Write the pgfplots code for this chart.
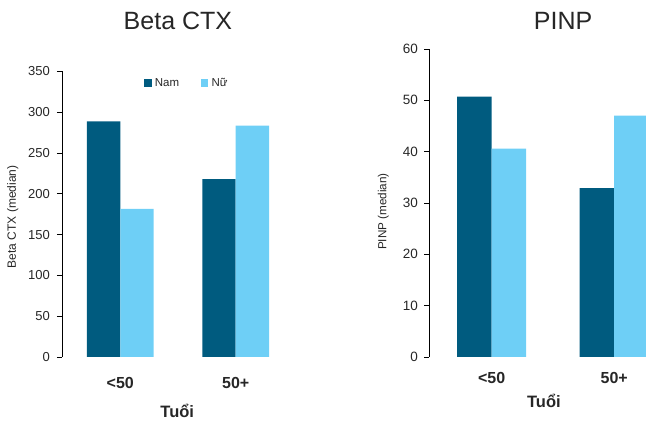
\documentclass[border=0pt]{standalone}
\usepackage{fontspec}
\setmainfont{Liberation Sans}
\usepackage{pgfplots}
\pgfplotsset{compat=1.18}
\definecolor{nam}{HTML}{005B7F}
\definecolor{nu}{HTML}{6ECFF6}
\definecolor{txt}{HTML}{262626}
\pgfplotsset{
  sqleg/.style={legend image code/.code={\fill[##1,draw=none] (0pt,-0.6ex) rectangle (7.5pt,7.5pt-0.6ex);}},
  common/.style={
    scale only axis, anchor=south west,
    axis lines*=left,
    x axis line style={draw=none},
    y axis line style={line width=0.8pt, black},
    xtick style={draw=none},
    ytick style={line width=0.8pt, black},
    tick align=outside, major tick length=5pt,
    ymin=0,
    xtick={0,1}, xticklabels={\textless50,50+},
    /pgf/number format/assume math mode=true,
    ybar, 
    title style={anchor=base, font=\fontsize{25}{25}\selectfont, text=txt},
    xticklabel style={anchor=base, font=\bfseries\fontsize{16}{16}\selectfont, text=txt},
    xlabel style={anchor=base, font=\bfseries\fontsize{16.5}{16.5}\selectfont, text=txt},
  }
}
\begin{document}
\begin{tikzpicture}
\path[use as bounding box, clip] (0,0) rectangle (646pt,423pt);
\begin{axis}[common,
  at={(62pt,66pt)}, width=231.4pt, height=285.5pt,
  xmin=-0.505, xmax=1.5, ymax=350,
  ytick={0,50,...,350},
  yticklabel style={anchor=east, inner sep=0pt, xshift=-7pt, font=\fontsize{13}{13}\selectfont, text=txt},
  bar width=0.2886,
  title={Beta CTX}, title style={at={(axis description cs:0.501,1)}, yshift=35.8pt},
  xticklabel style={yshift=-26.7pt},
  xlabel={Tuổi}, xlabel style={at={(axis description cs:0.498,0)}, yshift=-60.3pt},
  ylabel={Beta CTX (median)},
  every axis y label/.style={at={(axis description cs:-0.213,0.491)}, rotate=90, anchor=center, font=\fontsize{12}{12}\selectfont, text=txt},
  legend columns=2,
  legend style={at={(axis description cs:0.3544,0.958)}, anchor=west, draw=none, fill=none, inner sep=0pt, outer sep=0pt,
    font=\fontsize{11.5}{11.5}\selectfont, text=txt,
    nodes={inner sep=0pt},
    /tikz/every odd column/.style={column sep=3.3pt},
    /tikz/every even column/.style={column sep=21.7pt}},
]
\addplot[sqleg, fill=nam, draw=none, bar shift=-0.1443] coordinates {(0,289) (1,218)};
\addlegendentry{Nam}
\addplot[sqleg, fill=nu, draw=none, bar shift=0.1443] coordinates {(0,181.5) (1,283.5)};
\addlegendentry{Nữ}
\end{axis}
\begin{axis}[common,
  at={(429pt,66pt)}, width=246.5pt, height=308pt,
  xmin=-0.511, xmax=1.5, ymax=60,
  ytick={0,10,...,60},
  yticklabel style={anchor=east, inner sep=0pt, xshift=-6pt, font=\fontsize{13.5}{13.5}\selectfont, text=txt},
  bar width=0.282,
  title={PINP}, title style={at={(axis description cs:0.544,1)}, yshift=13.3pt},
  xticklabel style={yshift=-22pt},
  xlabel={Tuổi}, xlabel style={at={(axis description cs:0.466,0)}, yshift=-51pt},
  ylabel={PINP (median)},
  every axis y label/.style={at={(axis description cs:-0.185,0.472)}, rotate=90, anchor=center, font=\fontsize{11.7}{11.7}\selectfont, text=txt},
]
\addplot[fill=nam, draw=none, bar shift=-0.141] coordinates {(0,50.7) (1,32.9)};
\addplot[fill=nu, draw=none, bar shift=0.141] coordinates {(0,40.6) (1,47.0)};
\end{axis}
\end{tikzpicture}
\end{document}
